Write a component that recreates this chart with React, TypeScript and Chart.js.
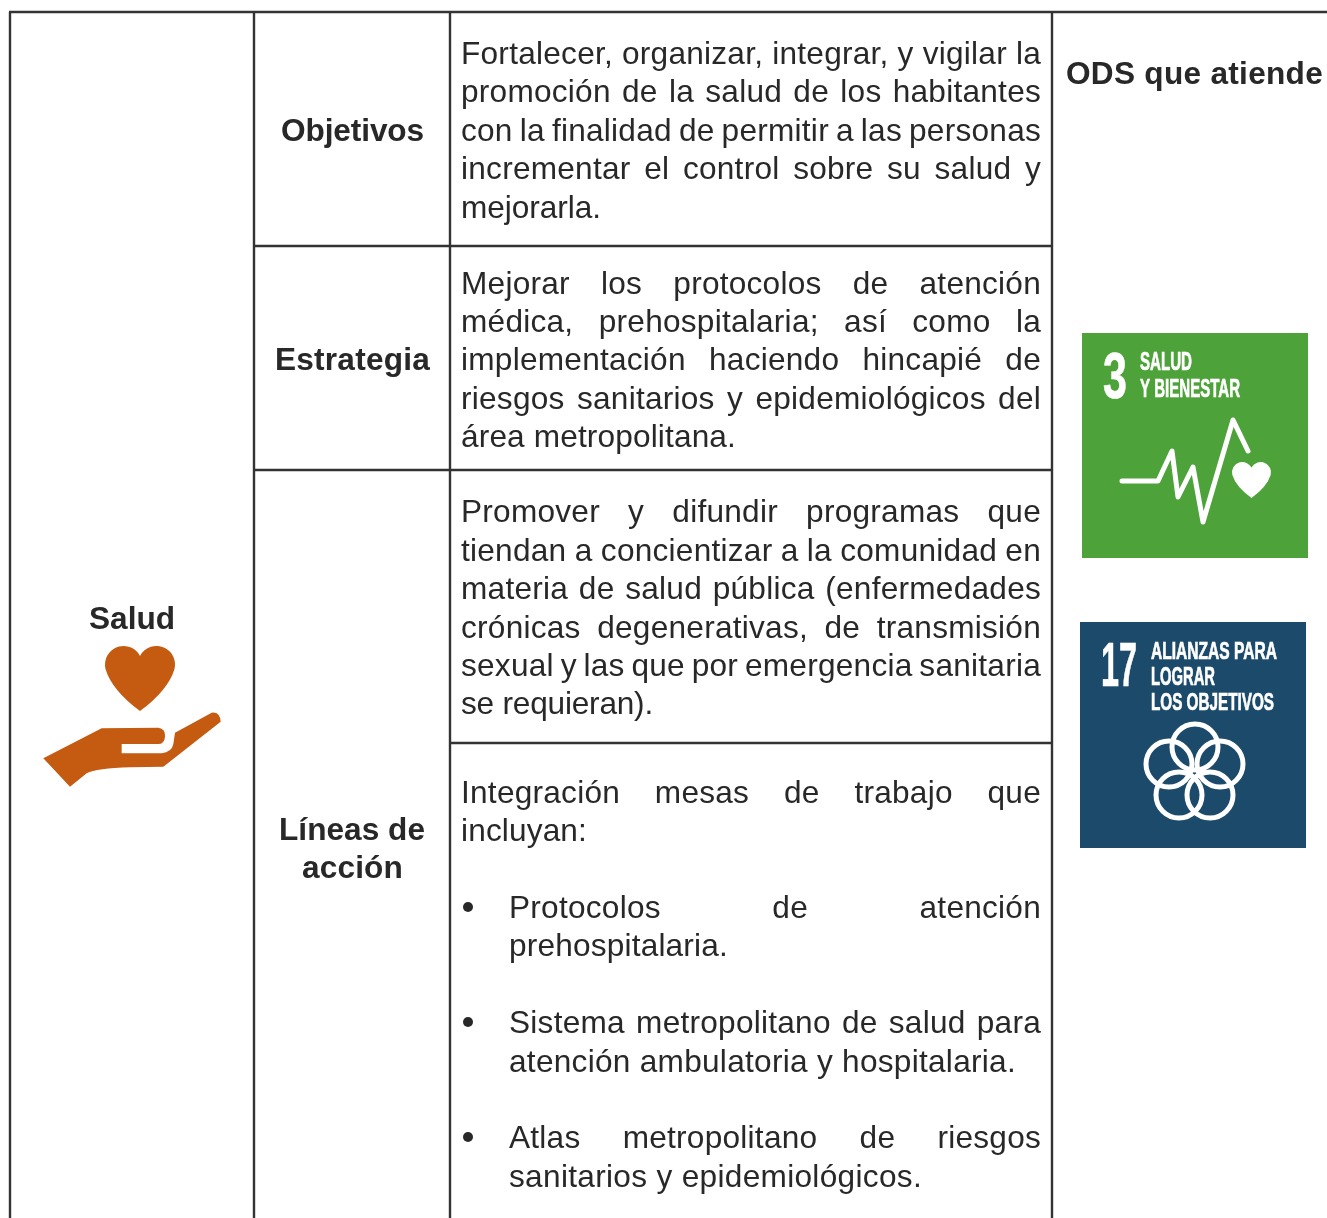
import React, { useEffect, useRef } from "react";
import { Chart, registerables } from "chart.js";

Chart.register(...registerables);

const W = 1327;
const H = 1218;
const INK = "#282828";
const RULE = "#333333";
const BODY_FONT = '31.6px "Liberation Sans"';
const BOLD_FONT = 'bold 31.6px "Liberation Sans"';
const COND_FONT = '"Liberation Sans"';
const BODY_TRACKING = 0.25;

// table rules: [x0, y0, x1, y1]
const tableRules = [
  [9, 12, 1327, 12],
  [10, 12, 10, 1218],
  [254, 12, 254, 1218],
  [450, 12, 450, 1218],
  [1052, 12, 1052, 1218],
  [254, 246, 1052, 246],
  [254, 470, 1052, 470],
  [450, 743, 1052, 743],
];

// bold row headings: [text, left, right, baseline]
const headings: [string, number, number, number][] = [
  ["Salud", 89, 175, 629],
  ["Objetivos", 281, 424, 141],
  ["Estrategia", 275, 430, 370],
  ["Líneas de", 279, 425, 840],
  ["acción", 302, 403, 878],
  ["ODS que atiende", 1066, 1323, 84],
];

// body lines: [text, baseline, right edge of a short line (0 = full measure)]
const objetivos: [string, number, number][] = [
  ["Fortalecer, organizar, integrar, y vigilar la", 64, 0],
  ["promoción de la salud de los habitantes", 102, 0],
  ["con la finalidad de permitir a las personas", 141, 0],
  ["incrementar el control sobre su salud y", 179, 0],
  ["mejorarla.", 218, 601],
];
const estrategia: [string, number, number][] = [
  ["Mejorar los protocolos de atención", 294, 0],
  ["médica, prehospitalaria; así como la", 332, 0],
  ["implementación haciendo hincapié de", 370, 0],
  ["riesgos sanitarios y epidemiológicos del", 409, 0],
  ["área metropolitana.", 447, 736],
];
const lineaPromover: [string, number, number][] = [
  ["Promover y difundir programas que", 522, 0],
  ["tiendan a concientizar a la comunidad en", 561, 0],
  ["materia de salud pública (enfermedades", 599, 0],
  ["crónicas degenerativas, de transmisión", 638, 0],
  ["sexual y las que por emergencia sanitaria", 676, 0],
  ["se requieran).", 714, 653],
];
const lineaMesas: [string, number, number][] = [
  ["Integración mesas de trabajo que", 803, 0],
  ["incluyan:", 841, 587],
];
const bulletLines: [string, number, number][] = [
  ["Protocolos de atención", 918, 0],
  ["prehospitalaria.", 956, 728],
  ["Sistema metropolitano de salud para", 1033, 0],
  ["atención ambulatoria y hospitalaria.", 1072, 1016],
  ["Atlas metropolitano de riesgos", 1148, 0],
  ["sanitarios y epidemiológicos.", 1187, 922],
];
const bulletBaselines = [907, 1022, 1137];

// goal tile captions: [text, left, right, top, bottom]
const tile3Text: [string, number, number, number, number][] = [
  ["3", 1103, 1127, 351, 398],
  ["SALUD", 1140, 1192, 351, 370],
  ["Y BIENESTAR", 1140, 1240, 378, 397],
];
const tile17Text: [string, number, number, number, number][] = [
  ["17", 1101, 1137, 641, 686],
  ["ALIANZAS PARA", 1151, 1277, 642, 659],
  ["LOGRAR", 1151, 1215, 667, 685],
  ["LOS OBJETIVOS", 1151, 1274, 693, 710],
];
const ecgPoints = [
  [1122, 481], [1158, 481], [1172, 451], [1178, 497], [1193, 467], [1203, 522], [1233, 420], [1248, 451],
];
const ringCentres = [
  [1195, 747], [1169, 764], [1220, 764], [1179, 795], [1210, 795],
];

function heart(ctx: CanvasRenderingContext2D, l: number, r: number, t: number, b: number) {
  const w = r - l;
  const h = b - t;
  const cx = (l + r) / 2;
  const R = w * 0.265;
  const off = w / 2 - R;
  const a = Math.acos(off / R);
  ctx.beginPath();
  ctx.arc(cx + off, t + R, R, Math.PI + a, 0.25);
  ctx.quadraticCurveTo(r - w * 0.1, t + h * 0.68, cx, b);
  ctx.quadraticCurveTo(l + w * 0.1, t + h * 0.68, cx - off - R * Math.cos(0.25), t + R + R * Math.sin(0.25));
  ctx.arc(cx - off, t + R, R, Math.PI - 0.25, -a);
  ctx.closePath();
  ctx.fill();
}

function fitText(ctx: CanvasRenderingContext2D, s: string, l: number, r: number, t: number, b: number) {
  const h = b - t;
  const size = h / 0.716; // cap height of the face
  ctx.save();
  ctx.font = `bold ${size}px ${COND_FONT}`;
  ctx.textAlign = "left";
  ctx.textBaseline = "alphabetic";
  const m = ctx.measureText(s).width;
  const k = (r - l) / m;
  ctx.translate(l, b);
  ctx.scale(k, 1);
  ctx.strokeStyle = "#ffffff";
  ctx.lineWidth = 0.7;
  ctx.lineJoin = "miter";
  ctx.strokeText(s, 0, 0);
  ctx.fillText(s, 0, 0);
  ctx.restore();
}

function setTracking(ctx: CanvasRenderingContext2D, px: number) {
  (ctx as any).letterSpacing = `${px}px`;
}

function fitTracked(ctx: CanvasRenderingContext2D, s: string, left: number, right: number, y: number) {
  setTracking(ctx, 0);
  const natural = ctx.measureText(s).width;
  setTracking(ctx, (right - left - natural) / s.length);
  ctx.fillText(s, left, y);
  setTracking(ctx, 0);
}

function justified(ctx: CanvasRenderingContext2D, s: string, left: number, right: number, y: number) {
  setTracking(ctx, BODY_TRACKING);
  const words = s.split(" ");
  const widths = words.map((w) => ctx.measureText(w).width);
  const total = widths.reduce((a, b) => a + b, 0);
  const gap = (right - left - total) / (words.length - 1);
  let x = left;
  words.forEach((w, i) => {
    ctx.fillText(w, x, y);
    x += widths[i] + gap;
  });
  setTracking(ctx, 0);
}

function bodyLine(ctx: CanvasRenderingContext2D, line: [string, number, number], left: number) {
  const [t, y, end] = line;
  if (end) fitTracked(ctx, t, left, end, y);
  else justified(ctx, t, left, 1041, y);
}

const tablePlugin = {
  id: "tablePlugin",
  afterDatasetsDraw(chart: any) {
    const ctx: CanvasRenderingContext2D = chart.ctx;
    ctx.save();
    ctx.textBaseline = "alphabetic";
    ctx.textAlign = "left";
    ctx.fillStyle = INK;

    ctx.font = BOLD_FONT;
    headings.forEach(([t, l, r, y]) => fitTracked(ctx, t, l, r, y));

    ctx.font = BODY_FONT;
    [...objetivos, ...estrategia, ...lineaPromover, ...lineaMesas].forEach((ln) => bodyLine(ctx, ln, 461));
    bulletLines.forEach((ln) => bodyLine(ctx, ln, 509));
    bulletBaselines.forEach((y) => {
      ctx.beginPath();
      ctx.arc(468, y, 5, 0, Math.PI * 2);
      ctx.fill();
    });

    // Hand and heart pictogram
    ctx.fillStyle = "#c55a11";
    heart(ctx, 105, 175, 646, 711);
    const hx = (p: number) => 30 + p / 3;
    const hy = (p: number) => 590 + p / 3;
    ctx.beginPath();
    ctx.moveTo(hx(40), hy(505));
    ctx.lineTo(hx(215), hy(415));
    ctx.lineTo(hx(385), hy(413));
    ctx.quadraticCurveTo(hx(407), hy(416), hx(405), hy(440));
    ctx.quadraticCurveTo(hx(403), hy(462), hx(385), hy(462));
    ctx.lineTo(hx(275), hy(462));
    ctx.lineTo(hx(275), hy(490));
    ctx.lineTo(hx(395), hy(490));
    ctx.quadraticCurveTo(hx(425), hy(487), hx(430), hy(462));
    ctx.lineTo(hx(435), hy(428));
    ctx.lineTo(hx(545), hy(368));
    ctx.quadraticCurveTo(hx(570), hy(365), hx(572), hy(395));
    ctx.lineTo(hx(400), hy(530));
    ctx.lineTo(hx(300), hy(532));
    ctx.quadraticCurveTo(hx(200), hy(535), hx(170), hy(550));
    ctx.lineTo(hx(120), hy(590));
    ctx.closePath();
    ctx.fill();

    // Goal 3 tile
    ctx.fillStyle = "#4ea23a";
    ctx.fillRect(1082, 333, 226, 225);
    ctx.fillStyle = "#ffffff";
    tile3Text.forEach(([t, l, r, a, b]) => fitText(ctx, t, l, r, a, b));
    ctx.strokeStyle = "#ffffff";
    ctx.lineWidth = 5;
    ctx.lineCap = "round";
    ctx.lineJoin = "round";
    ctx.beginPath();
    ecgPoints.forEach(([x, y], i) => (i ? ctx.lineTo(x, y) : ctx.moveTo(x, y)));
    ctx.stroke();
    heart(ctx, 1232, 1271, 462, 498);

    // Goal 17 tile
    ctx.fillStyle = "#1c4a6b";
    ctx.fillRect(1080, 622, 226, 226);
    ctx.fillStyle = "#ffffff";
    tile17Text.forEach(([t, l, r, a, b]) => fitText(ctx, t, l, r, a, b));
    ctx.lineWidth = 5;
    ringCentres.forEach(([x, y]) => {
      ctx.beginPath();
      ctx.arc(x, y, 23, 0, Math.PI * 2);
      ctx.stroke();
    });
    ctx.restore();
  },
};

export default function App() {
  const ref = useRef<HTMLCanvasElement | null>(null);
  useEffect(() => {
    if (!ref.current) return;
    const chart = new Chart(ref.current, {
      type: "scatter",
      data: {
        datasets: tableRules.map(([x0, y0, x1, y1]) => ({
          data: [{ x: x0, y: y0 }, { x: x1, y: y1 }],
          showLine: true,
          borderColor: RULE,
          borderWidth: 2.4,
          pointRadius: 0,
          clip: false,
        })),
      },
      options: {
        animation: false,
        responsive: false,
        layout: { padding: 0 },
        plugins: { legend: { display: false }, tooltip: { enabled: false }, title: { display: false } },
        scales: {
          x: { type: "linear", min: 0, max: W, display: false },
          y: { type: "linear", min: 0, max: H, reverse: true, display: false },
        },
      },
      plugins: [tablePlugin],
    } as any);
    return () => chart.destroy();
  }, []);
  return (
    <div style={{ position: "absolute", left: 0, top: 0, width: W, height: H, background: "#fff", overflow: "hidden" }}>
      <canvas ref={ref} width={W} height={H} style={{ display: "block", width: W, height: H }} />
    </div>
  );
}
